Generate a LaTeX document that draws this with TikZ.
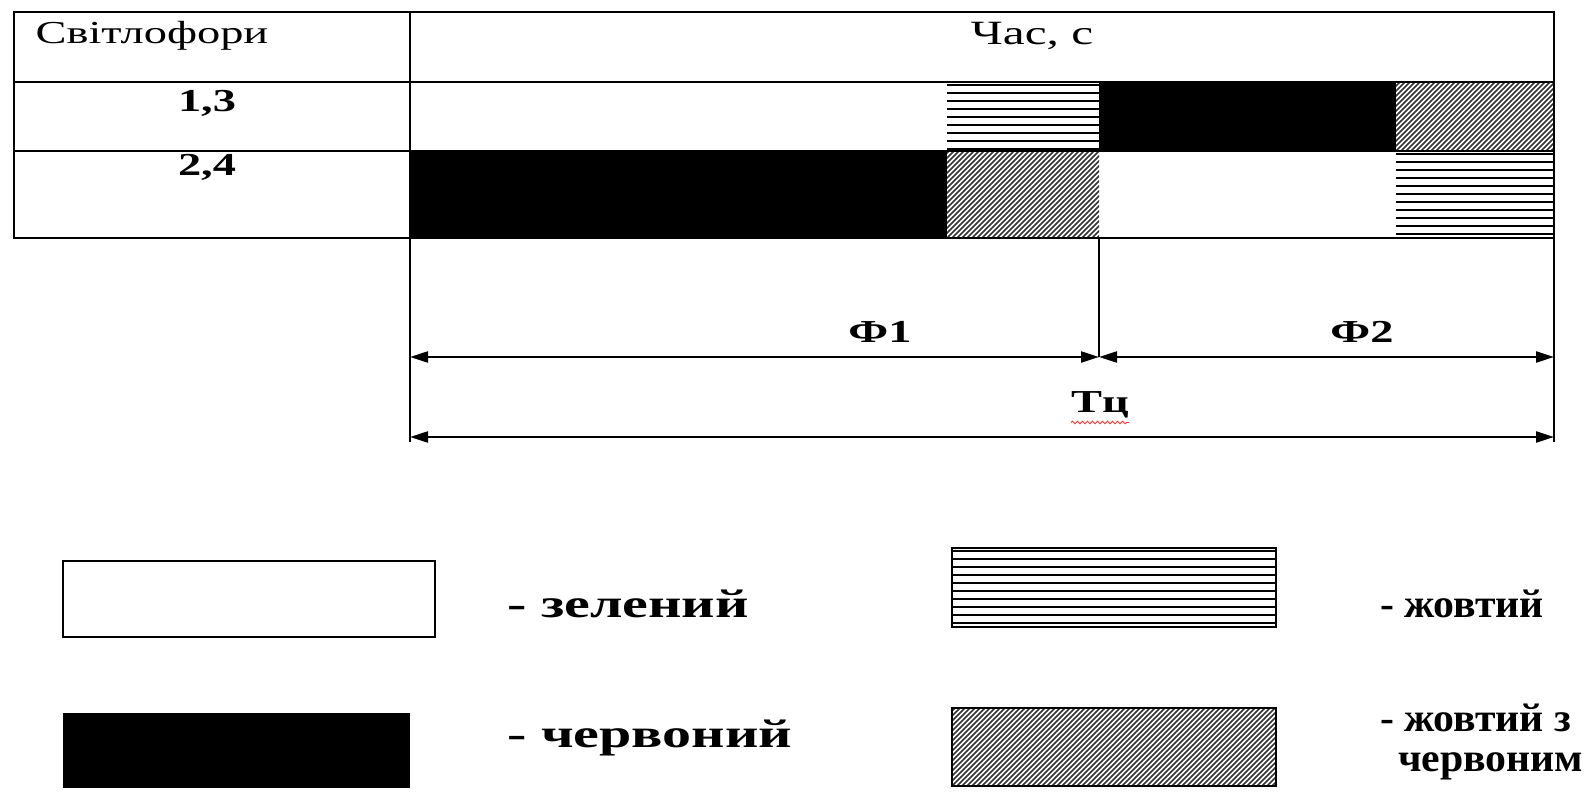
\documentclass[tikz,border=0pt]{standalone}
\usepackage{fontspec}
\setmainfont{Liberation Serif}[FakeStretch=1.45]
\usetikzlibrary{arrows.meta,decorations.pathmorphing}

% yellow: horizontal stripes
\newcommand{\stripebox}[4]{%
\begin{scope}
\clip (#1,#2) rectangle (#3,#4);
\fill[white] (#1,#2) rectangle (#3,#4);
\foreach \k in {0,...,12}
  \draw[line width=2.6] (#1,#2+3+\k*8) -- (#3,#2+3+\k*8);
\end{scope}}

% yellow with red: diagonal hatch
\newcommand{\hatchbox}[4]{%
\begin{scope}
\clip (#1,#2) rectangle (#3,#4);
\fill[white] (#1,#2) rectangle (#3,#4);
\foreach \k in {-25,...,70}
  \draw[line width=1.6,black!80] (#1+\k*5,#4) -- ++(100,-100);
\end{scope}}

% narrower legend text in the right column
\newcommand{\narrow}[1]{\scalebox{0.72}[1]{#1}}

\tikzset{
  grid/.style={line width=2},
  dim/.style={line width=2.2,{Triangle[length=18,width=11]}-{Triangle[length=18,width=11]}},
  cell/.style={font=\fontsize{32}{36}\selectfont},
  num/.style={font=\fontsize{32}{36}\selectfont\bfseries},
  lgd/.style={anchor=west,inner sep=0,font=\fontsize{40}{40}\selectfont\bfseries}
}

\begin{document}
\begin{tikzpicture}[x=1pt,y=-1pt]
\useasboundingbox (0,0) rectangle (1585,810);
\clip (0,0) rectangle (1585,810);

% signal states
\fill (1099,82) rectangle (1396,151);
\fill (410,151) rectangle (947,238);
\stripebox{947}{82}{1099}{151}
\hatchbox{1396}{82}{1554}{151}
\hatchbox{947}{151}{1099}{238}
\stripebox{1396}{151}{1554}{238}

% table
\draw[grid] (14,12) rectangle (1554,238);
\draw[grid] (14,82) -- (1554,82);
\draw[grid] (14,151) -- (1554,151);
\draw[grid] (410,12) -- (410,238);

\node[cell] (hdr1) at (152,36) {Світлофори};
\node[cell,font=\fontsize{34}{38}\selectfont] (hdr2) at (1032,36) {Час, с};
\node[num] (r1) at (207,103) {1,3};
\node[num] (r2) at (207,167) {2,4};

% phases and cycle
\coordinate (e0) at (410,238);
\coordinate (e1) at (1099,238);
\coordinate (e2) at (1554,238);
\coordinate (f0) at (410,357);
\coordinate (f1) at (1099,357);
\coordinate (f2) at (1554,357);
\coordinate (c0) at (410,437);
\coordinate (c1) at (1554,437);
\draw[line width=2] (e0) -- (410,442);
\draw[line width=2] (e1) -- (f1);
\draw[line width=2] (e2) -- (1554,442);
\draw[dim] (f0) -- (f1);
\draw[dim] (f1) -- (f2);
\draw[dim] (c0) -- (c1);

\node[num] (ph1) at (880,332) {Ф1};
\node[num] (ph2) at (1362,332) {Ф2};
\node[num,inner sep=0] (tc) at (1100,405) {Тц};
\draw[red!80,line width=0.9,decorate,decoration={snake,amplitude=1.3,segment length=5}]
  ([yshift=-4]tc.south west) -- ([yshift=-4]tc.south east);

% legend
\draw[line width=2] (63,561) rectangle (435,637);
\fill (63,713) rectangle (410,788);
\stripebox{952}{548}{1276}{627}
\draw[line width=2] (952,548) rectangle (1276,627);
\hatchbox{952}{708}{1276}{786}
\draw[line width=2] (952,708) rectangle (1276,786);

\node[lgd] (g) at (507,604) {- зелений};
\node[lgd] (r) at (507,738) {- червоний};
\node[lgd] (y) at (1380,604) {\narrow{- жовтий}};
\node[lgd,align=left] (yr) at (1380,742)
  {\narrow{- жовтий з}\\\hspace*{18pt}\narrow{червоним}};
\end{tikzpicture}
\end{document}
